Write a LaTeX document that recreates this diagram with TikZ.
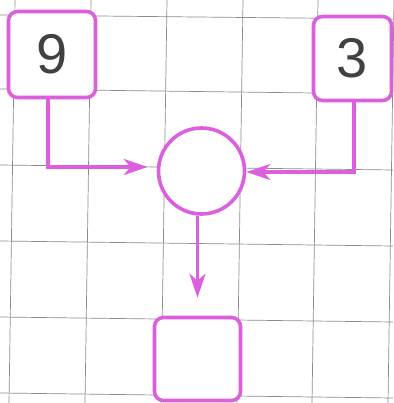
\documentclass[tikz,border=0pt]{standalone}
\usepackage{fontspec}
\setmainfont{Liberation Sans}
\usetikzlibrary{arrows.meta,calc}
\definecolor{mag}{RGB}{220,96,222}
\definecolor{gridgray}{RGB}{140,140,140}
\definecolor{digit}{RGB}{65,65,65}
\begin{document}
\begin{tikzpicture}[x=1pt,y=-1pt,
  gridline/.style={gridgray,line width=0.7pt},
  numbox/.style={draw=mag,line width=3.6pt,rounded corners=9pt,fill=white,inner sep=0pt,
    font=\fontsize{56}{56}\selectfont,text=digit},
  ring/.style={draw=mag,line width=3.6pt,circle,fill=white,inner sep=0pt},
  conn/.style={draw=mag,line width=3.6pt,-{Stealth[length=24pt,width=16pt,inset=7pt]}}]
\useasboundingbox (0,0) rectangle (393,403);
\fill[white] (0,0) rectangle (393,403);
% grid
\foreach \xt/\xb in {15/9,91/85,167/161,243/237,318/312,394/388}
  \draw[gridline] (\xt,0) -- (\xb,403);
\foreach \yl/\yr in {15/19,89/94,165/170,241/246,317/322,393/398}
  \draw[gridline] (0,\yl) -- (393,\yr);
% nodes
\node[numbox,minimum width=87pt,minimum height=86pt] (n9) at (52,54.5) {9};
\node[numbox,minimum width=78pt,minimum height=84pt] (n3) at (352.5,58.5) {3};
\node[ring,minimum size=86pt] (c) at (201.5,171) {};
\node[numbox,minimum width=86pt,minimum height=83pt] (b) at (197.5,359) {};
% connectors
\draw[conn,shorten >=9pt] ([xshift=-4pt]n9.south) |- ([yshift=4pt]c.west);
\draw[conn] ([xshift=1.5pt]n3.south) |- ([yshift=-1pt]c.east);
\draw[conn,shorten >=18pt] (c.south -| b.north) -- (b.north);
\end{tikzpicture}
\end{document}
